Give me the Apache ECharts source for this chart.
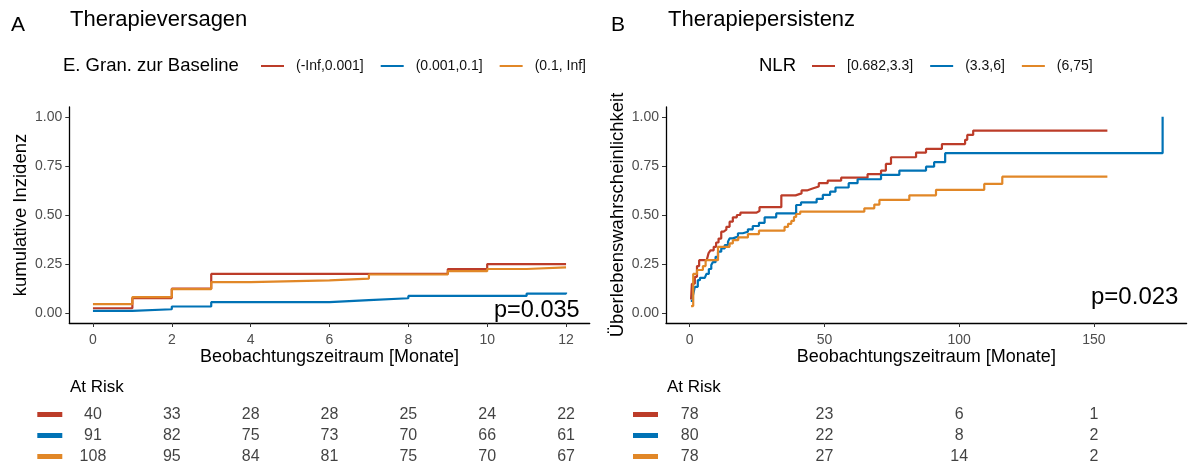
<!DOCTYPE html>
<html>
<head>
<meta charset="utf-8">
<script src="https://cdn.jsdelivr.net/npm/echarts@6/dist/echarts.min.js"></script>
<style>
  html, body { margin: 0; padding: 0; background: #fff; }
  #chart { width: 1189px; height: 461px; }
</style>
</head>
<body>
<div id="chart"></div>
<script>
// ticks
const yTicks = [0, 0.25, 0.5, 0.75, 1]
const xTicksA = [0, 2, 4, 6, 8, 10, 12]
const xTicksB = [0, 50, 100, 150]

// A: Therapieversagen, cumulative incidence by E. Gran. zur Baseline
const groupsA = ['(-Inf,0.001]', '(0.001,0.1]', '(0.1, Inf]']
const redTimesA = [0, 1, 2, 3, 9, 10, 12]
const redValsA = [0.025, 0.077, 0.125, 0.2, 0.224, 0.25, 0.25]
const blueTimesA = [0, 1, 2, 3, 6, 7, 8, 11, 12]
const blueValsA = [0.012, 0.02, 0.034, 0.056, 0.066, 0.076, 0.088, 0.1, 0.105]
const orangeTimesA = [0, 1, 2, 3, 4, 6, 7, 9, 10, 11, 12]
const orangeValsA = [0.046, 0.082, 0.123, 0.158, 0.167, 0.176, 0.197, 0.214, 0.225, 0.233, 0.233]

// B: Therapiepersistenz by NLR
const groupsB = ['[0.682,3.3]', '(3.3,6]', '(6,75]']
const redTimesB = [0.5, 0.8, 1.9, 2.7, 3.5, 6.3, 7, 7.7, 8.9, 9.8, 10.7, 11.7, 12.6, 13.6, 14.8, 16, 17.5, 18.8, 24.7, 25.9, 34, 39.3, 41.5, 43.5, 45.6, 47.9, 51.2, 56.2, 66, 71, 72.8, 74.7, 84, 87.7, 93.6, 102.2, 103, 105.2, 155]
const redValsB = [0.07, 0.15, 0.185, 0.24, 0.27, 0.28, 0.306, 0.32, 0.338, 0.36, 0.38, 0.415, 0.425, 0.44, 0.466, 0.488, 0.5, 0.512, 0.52, 0.54, 0.6, 0.61, 0.625, 0.635, 0.645, 0.662, 0.675, 0.69, 0.708, 0.726, 0.76, 0.794, 0.818, 0.837, 0.861, 0.883, 0.908, 0.93, 0.93]
const blueTimesB = [0.4, 1.2, 1.9, 3, 3.8, 5.6, 6.2, 7.1, 8, 8.6, 9.6, 10.5, 11.7, 13, 14.2, 14.8, 16, 17.9, 19.7, 21.6, 23.4, 25.7, 27.8, 32.1, 39.5, 41.3, 47.1, 49.4, 52.1, 54.1, 59, 62.3, 71, 77.8, 87.7, 90.7, 94.8, 175.5, 175.5]
const blueValsB = [0.063, 0.09, 0.134, 0.168, 0.18, 0.185, 0.2, 0.225, 0.245, 0.26, 0.287, 0.313, 0.33, 0.347, 0.364, 0.381, 0.39, 0.407, 0.415, 0.427, 0.444, 0.46, 0.488, 0.508, 0.551, 0.564, 0.582, 0.602, 0.619, 0.64, 0.662, 0.682, 0.704, 0.726, 0.746, 0.769, 0.815, 0.815, 1.0]
const orangeTimesB = [0.5, 1.3, 2.7, 4.9, 5.9, 10.5, 14.8, 16, 18, 21.6, 25.7, 35.2, 36.5, 37.7, 38.7, 39.5, 41, 64.8, 68.5, 70.4, 81.5, 91.4, 109.3, 116, 155]
const orangeValsB = [0.036, 0.2, 0.22, 0.24, 0.27, 0.338, 0.355, 0.372, 0.386, 0.403, 0.42, 0.44, 0.455, 0.47, 0.49, 0.505, 0.517, 0.534, 0.553, 0.577, 0.6, 0.628, 0.658, 0.695, 0.695]

// at risk tables
const riskRows = ['red', 'blue', 'orange']
const riskRedA = [40, 33, 28, 28, 25, 24, 22]
const riskBlueA = [91, 82, 75, 73, 70, 66, 61]
const riskOrangeA = [108, 95, 84, 81, 75, 70, 67]
const riskRedB = [78, 23, 6, 1]
const riskBlueB = [80, 22, 8, 2]
const riskOrangeB = [78, 27, 14, 2]

const colors = { red: '#BC3C29', blue: '#0072B5', orange: '#E18727' }
const FONT = '"Liberation Sans", Arial, sans-serif'

const zip = (ts, vs) => ts.map((t, i) => [t, vs[i]])

function curve(name, idx, color, ts, vs) {
  return {
    name, type: 'line', step: 'end', xAxisIndex: idx, yAxisIndex: idx,
    symbol: 'none', lineStyle: { color, width: 2.2 }, itemStyle: { color },
    data: zip(ts, vs),
  }
}

function riskSeries(idx, ticks, rows) {
  const data = []
  rows.forEach((vals, r) => vals.forEach((n, i) => data.push([ticks[i], riskRows[r], n])))
  return {
    type: 'scatter', xAxisIndex: idx, yAxisIndex: idx, symbolSize: 0,
    itemStyle: { color: 'rgba(0,0,0,0)' }, silent: true,
    label: { show: true, position: 'inside', formatter: (p) => p.value[2], color: '#111', fontSize: 16, fontFamily: FONT },
    data,
  }
}

function xAxis(grid, min, max, ticks) {
  return {
    type: 'value', gridIndex: grid, min, max,
    name: 'Beobachtungszeitraum [Monate]', nameLocation: 'middle', nameGap: 25,
    nameTextStyle: { color: '#000', fontSize: 18 },
    axisLine: { onZero: false, lineStyle: { color: '#000', width: 1.3 } },
    axisTick: { length: 4, customValues: ticks, lineStyle: { color: '#333' } },
    axisLabel: { customValues: ticks, color: '#4d4d4d', fontSize: 14, margin: 10 },
    splitLine: { show: false },
  }
}

function yAxis(grid, name, gap) {
  return {
    type: 'value', gridIndex: grid, min: -0.05, max: 1.05,
    name, nameLocation: 'middle', nameGap: gap, nameRotate: 90,
    nameTextStyle: { color: '#000', fontSize: 18.5 },
    axisLine: { show: true, onZero: false, lineStyle: { color: '#000', width: 1.3 } },
    axisTick: { show: true, length: 4, customValues: yTicks, lineStyle: { color: '#333' } },
    axisLabel: { customValues: yTicks, color: '#4d4d4d', fontSize: 14, margin: 7, formatter: (v) => v.toFixed(2) },
    splitLine: { show: false },
  }
}

function riskX(grid, min, max) {
  return { type: 'value', gridIndex: grid, min, max, show: false }
}

function riskY(grid, margin) {
  const rich = {}
  riskRows.forEach((k) => { rich[k] = { backgroundColor: colors[k], width: 25, height: 5 } })
  return {
    type: 'category', gridIndex: grid, data: riskRows, inverse: true,
    axisLine: { show: false }, axisTick: { show: false }, splitLine: { show: false },
    axisLabel: { margin, formatter: (v) => `{${v}|}`, rich },
  }
}

const titleStyle = (size) => ({ color: '#000', fontSize: size, fontWeight: 'normal', fontFamily: FONT })

const option = {
  animation: false,
  textStyle: { fontFamily: FONT },
  title: [
    { text: 'A', left: 11, top: 15, padding: 0, textStyle: titleStyle(21) },
    { text: 'Therapieversagen', left: 70, top: 9, padding: 0, textStyle: titleStyle(22) },
    { text: 'E. Gran. zur Baseline', left: 63, top: 56, padding: 0, textStyle: titleStyle(18.5) },
    { text: 'At Risk', left: 70, top: 379, padding: 0, textStyle: titleStyle(17) },
    { text: 'p=0.035', left: 494, top: 299, padding: 0, textStyle: titleStyle(23.5) },
    { text: 'B', left: 611, top: 15, padding: 0, textStyle: titleStyle(21) },
    { text: 'Therapiepersistenz', left: 668, top: 9, padding: 0, textStyle: titleStyle(22) },
    { text: 'NLR', left: 759, top: 56, padding: 0, textStyle: titleStyle(18.5) },
    { text: 'At Risk', left: 667, top: 379, padding: 0, textStyle: titleStyle(17) },
    { text: 'p=0.023', left: 1091, top: 285, padding: 0, textStyle: titleStyle(24) },
  ],
  legend: [
    {
      data: groupsA, left: 261, top: 59, padding: 0, icon: 'rect', itemWidth: 23, itemHeight: 2, itemGap: 17,
      textStyle: { fontSize: 14, color: '#111', padding: [0, 0, 0, 7] }, selectedMode: false,
    },
    {
      data: groupsB, left: 812, top: 59, padding: 0, icon: 'rect', itemWidth: 23, itemHeight: 2, itemGap: 17,
      textStyle: { fontSize: 14, color: '#111', padding: [0, 0, 0, 7] }, selectedMode: false,
    },
  ],
  grid: [
    { left: 69.3, top: 107, width: 520.4, height: 216, outerBoundsMode: 'none' },
    { left: 666, top: 107, width: 520.6, height: 216, outerBoundsMode: 'none' },
    { left: 69.3, top: 404, width: 520.4, height: 63, outerBoundsMode: 'none' },
    { left: 666, top: 404, width: 520.6, height: 63, outerBoundsMode: 'none' },
  ],
  xAxis: [
    xAxis(0, -0.6, 12.6, xTicksA),
    xAxis(1, -8.8, 184.4, xTicksB),
    riskX(2, -0.6, 12.6),
    riskX(3, -8.8, 184.4),
  ],
  yAxis: [
    yAxis(0, 'kumulative Inzidenz', 39),
    yAxis(1, 'Überlebenswahrscheinlichkeit', 39),
    riskY(2, 7),
    riskY(3, 8),
  ],
  series: [
    curve(groupsA[0], 0, colors.red, redTimesA, redValsA),
    curve(groupsA[1], 0, colors.blue, blueTimesA, blueValsA),
    curve(groupsA[2], 0, colors.orange, orangeTimesA, orangeValsA),
    curve(groupsB[0], 1, colors.red, redTimesB, redValsB),
    curve(groupsB[1], 1, colors.blue, blueTimesB, blueValsB),
    curve(groupsB[2], 1, colors.orange, orangeTimesB, orangeValsB),
    riskSeries(2, xTicksA, [riskRedA, riskBlueA, riskOrangeA]),
    riskSeries(3, xTicksB, [riskRedB, riskBlueB, riskOrangeB]),
  ],
}

const chart = echarts.init(document.getElementById('chart'))
chart.setOption(option)
</script>
</body>
</html>
